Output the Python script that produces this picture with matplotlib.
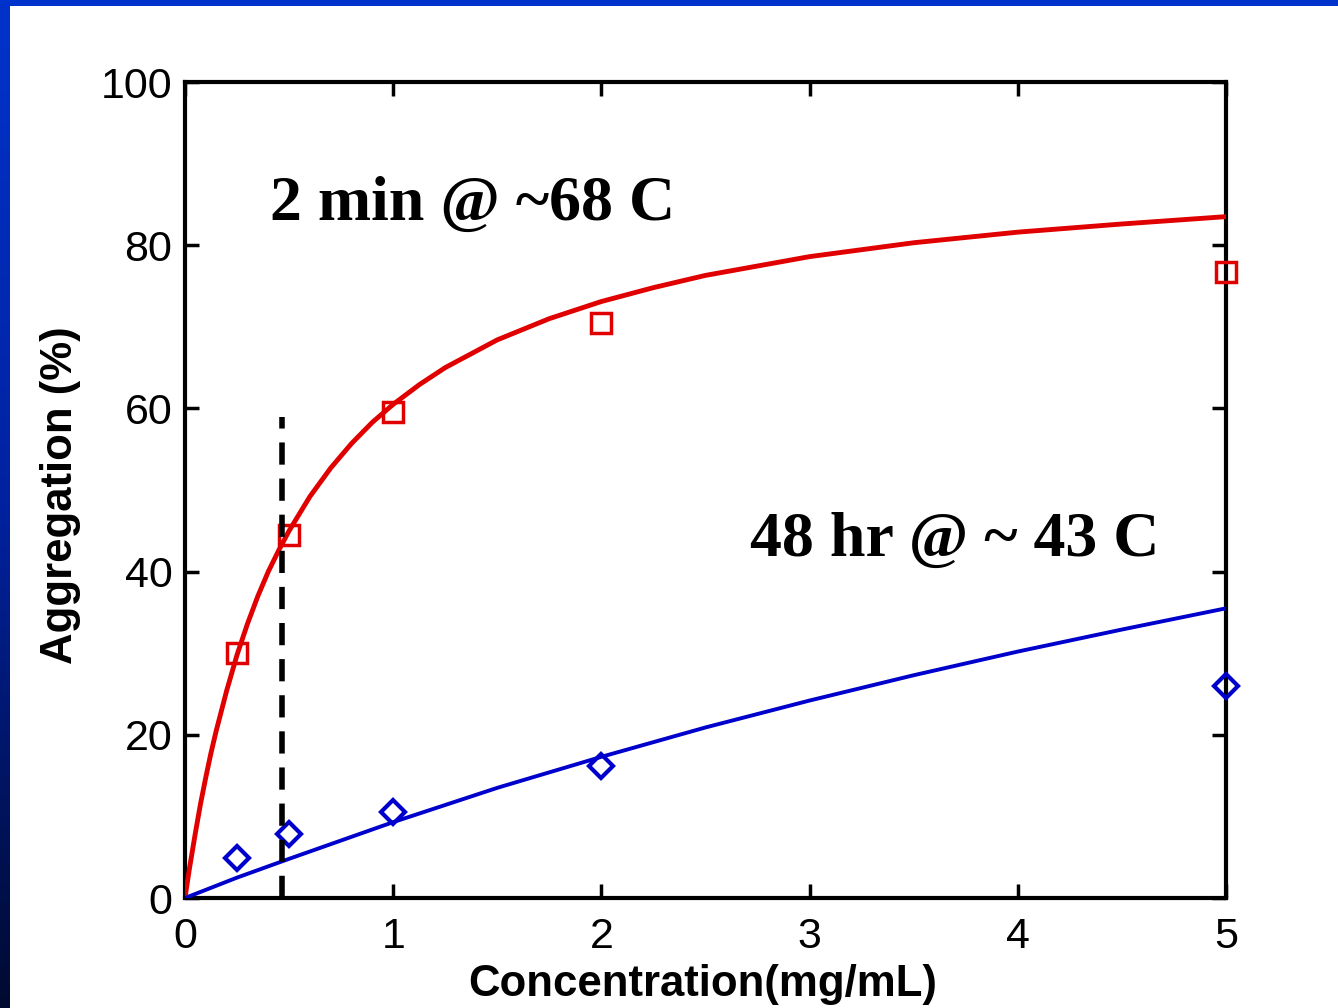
import numpy as np
import matplotlib
matplotlib.use("Agg")
import matplotlib.pyplot as plt
from matplotlib.colors import LinearSegmentedColormap

# ---- data ----
conc_points = [0.25, 0.5, 1.0, 2.0, 5.0]
agg_2min = [30.0, 44.5, 59.5, 70.5, 76.7]
agg_48hr = [4.9, 7.8, 10.5, 16.2, 26.0]

fit_x_2min = [0, 0.02, 0.05, 0.075, 0.1, 0.125, 0.15, 0.2, 0.25, 0.3, 0.35, 0.4, 0.45, 0.5, 0.6, 0.7,
              0.8, 0.9, 1.0, 1.125, 1.25, 1.5, 1.75, 2.0, 2.25, 2.5, 3.0, 3.5, 4.0, 4.5, 5.0]
fit_y_2min = [0, 3.4, 8.0, 11.6, 14.8, 17.8, 20.5, 25.4, 29.8, 33.6, 37.0, 40.0, 42.6, 45.0, 49.2, 52.7,
              55.7, 58.3, 60.5, 62.9, 65.0, 68.4, 71.0, 73.1, 74.8, 76.3, 78.6, 80.3, 81.6, 82.6, 83.5]
fit_x_48hr = [0, 0.25, 0.5, 1.0, 1.5, 2.0, 2.5, 3.0, 3.5, 4.0, 4.5, 5.0]
fit_y_48hr = [0, 2.5, 4.8, 9.3, 13.5, 17.3, 20.9, 24.2, 27.3, 30.2, 32.9, 35.5]

cutoff_x = 0.465
cutoff_top = 59.0

x_ticks = [0, 1, 2, 3, 4, 5]
y_ticks = [0, 20, 40, 60, 80, 100]

W, H = 1338, 1008
fig = plt.figure(figsize=(W / 100, H / 100), dpi=100)
fig.patch.set_facecolor("white")

# blue slide border: top strip and left gradient strip
top = fig.add_axes([0, 1 - 6 / H, 1, 6 / H])
top.set_facecolor("#0033cc")
top.set_xticks([]); top.set_yticks([])
for s in top.spines.values():
    s.set_visible(False)
left = fig.add_axes([0, 0, 10 / W, 1])
cmap = LinearSegmentedColormap.from_list("b", ["#0033cc", "#0022a0", "#000a30"])
left.imshow(np.linspace(0, 1, 256).reshape(-1, 1), aspect="auto", cmap=cmap)
left.set_axis_off()

ax = fig.add_axes([185 / W, 1 - 898 / H, (1226 - 185) / W, (898 - 82) / H])
ax.set_xlim(0, 5)
ax.set_ylim(0, 100)

red = "#e00000"
blue = "#0000cc"
ax.plot(fit_x_2min, fit_y_2min, color=red, lw=3.5, zorder=3, solid_joinstyle="round")
ax.plot(fit_x_48hr, fit_y_48hr, color=blue, lw=2.8, zorder=3)
ax.plot(conc_points, agg_2min, ls="none", marker="s", ms=15, mfc="none", mec=red, mew=2.5,
        zorder=4, clip_on=False)
ax.plot(conc_points, agg_48hr, ls="none", marker="D", ms=12, mfc="none", mec=blue, mew=3,
        zorder=4, clip_on=False)
ax.plot([cutoff_x, cutoff_x], [0, cutoff_top], color="black", lw=4, ls=(0, (4, 2.5)), zorder=5)

ax.set_xticks(x_ticks)
ax.set_yticks(y_ticks)
ax.tick_params(direction="in", length=10, width=2.5, top=True, right=True,
               labelsize=31, colors="black")
ax.tick_params(axis="x", pad=14)
ax.tick_params(axis="y", pad=9)
for lab in ax.get_xticklabels() + ax.get_yticklabels():
    lab.set_family("Liberation Sans")
for s in ax.spines.values():
    s.set_linewidth(3)

ax.set_xlabel("Concentration(mg/mL)", family="Liberation Sans", fontweight="bold",
              fontsize=31.5, va="center")
ax.xaxis.set_label_coords(0.4976, -0.1066)
ax.set_ylabel("Aggregation (%)", family="Liberation Sans", fontweight="bold",
              fontsize=31.5, va="center")
ax.yaxis.set_label_coords(-0.120, 0.494)

ax.text(0.408, 84.9, "2 min @ ~68 C", family="Liberation Serif", fontweight="bold",
        fontsize=46, va="center", ha="left")
ax.text(2.714, 43.8, "48 hr @ ~ 43 C", family="Liberation Serif", fontweight="bold",
        fontsize=46, va="center", ha="left")

fig.savefig("out.png", dpi=100, facecolor="white")
